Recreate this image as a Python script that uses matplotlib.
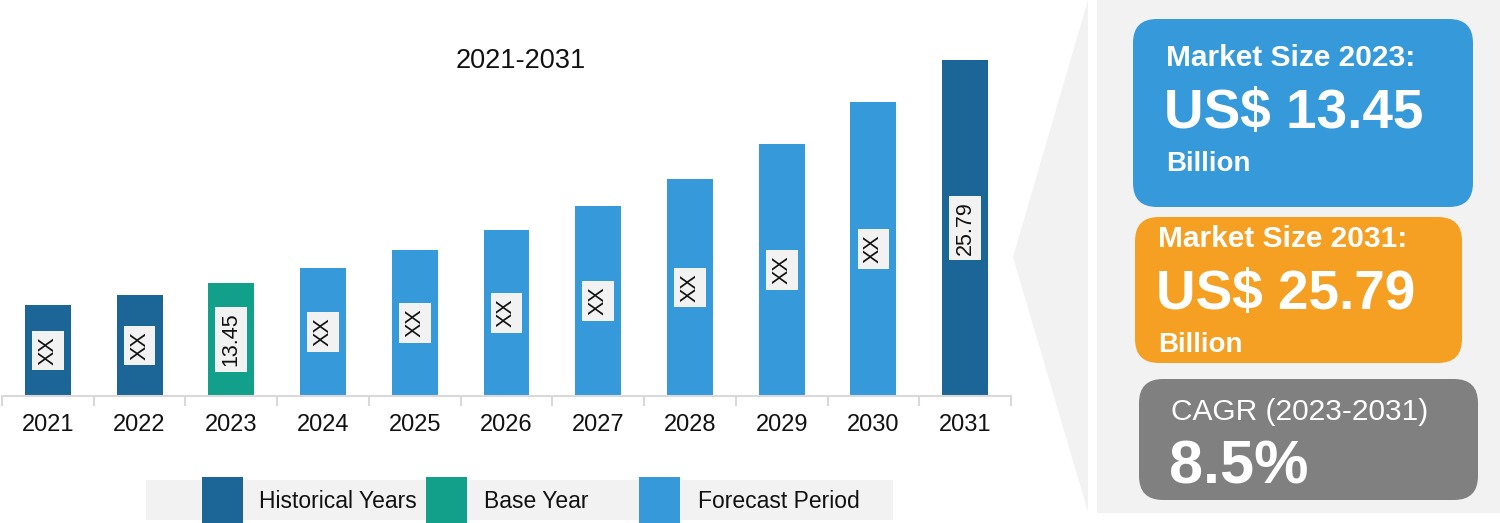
import matplotlib
matplotlib.use('Agg')
from matplotlib import pyplot as plt
from matplotlib.patches import Rectangle, FancyBboxPatch, Polygon

plt.rcParams['font.family'] = ['Liberation Sans', 'DejaVu Sans']

# data
years = ['2021', '2022', '2023', '2024', '2025', '2026', '2027', '2028', '2029', '2030', '2031']
bar_heights = [6.98, 7.75, 8.67, 9.83, 11.21, 12.74, 14.58, 16.66, 19.34, 22.57, 25.79]
bar_labels = ['XX', 'XX', '13.45', 'XX', 'XX', 'XX', 'XX', 'XX', 'XX', 'XX', '25.79']
periods = ['hist', 'hist', 'base', 'fc', 'fc', 'fc', 'fc', 'fc', 'fc', 'fc', 'hist']
legend_names = ['Historical Years', 'Base Year', 'Forecast Period']

COLORS = {'hist': '#1b6597', 'base': '#13a08b', 'fc': '#3599da'}
LABEL_BG = '#f2f2f2'
AXIS_GREY = '#d9d9d9'

fig = plt.figure(figsize=(15, 5.23), dpi=100)

# background layer in pixel coordinates
bg = fig.add_axes([0, 0, 1, 1], zorder=0)
bg.set_xlim(0, 1500)
bg.set_ylim(523, 0)
bg.axis('off')

# bar chart
ax = fig.add_axes([2 / 1500, 127 / 523, 1009 / 1500, 356 / 523], zorder=1)
ax.patch.set_alpha(0)
x = list(range(len(years)))
ax.bar(x, bar_heights, width=0.5, color=[COLORS[p] for p in periods], zorder=2)
for i, h in enumerate(bar_heights):
    ax.text(i, h / 2, bar_labels[i], rotation=90, ha='center', va='center',
            fontsize=15.5, color='#111111', zorder=3,
            bbox=dict(boxstyle='square,pad=0.25', fc=LABEL_BG, ec='none'))
ax.set_xlim(-0.5, len(years) - 0.5)
ax.set_ylim(0, 25.79 * 356 / 336)
ax.set_xticks(x)
ax.set_xticklabels(years, fontsize=17, color='#111111')
ax.set_xticks([i - 0.5 for i in range(len(years) + 1)], minor=True)
ax.tick_params(axis='x', which='major', length=0, pad=13)
ax.tick_params(axis='x', which='minor', length=7, color=AXIS_GREY, width=1.5)
ax.set_yticks([])
for s in ['top', 'right', 'left']:
    ax.spines[s].set_visible(False)
ax.spines['bottom'].set_color(AXIS_GREY)
ax.spines['bottom'].set_linewidth(1.5)

bg.text(521, 61, '2021-2031', ha='center', va='center', fontsize=19.5, color='#111111')

# legend
bg.add_patch(Rectangle((146, 480), 747, 40, fc='#f2f2f2', ec='none'))
for px, key, tx, name in zip([202, 426, 639], ['hist', 'base', 'fc'], [259, 484, 698], legend_names):
    bg.add_patch(Rectangle((px, 477), 41, 46, fc=COLORS[key], ec='none'))
    bg.text(tx, 501, name, ha='left', va='center', fontsize=16.5, color='#111111')

# right panel
bg.add_patch(Polygon([(1088, 0), (1013, 257), (1088, 512)], closed=True, fc='#f2f2f2', ec='none'))
bg.add_patch(Rectangle((1097, 0), 403, 513, fc='#f2f2f2', ec='none'))

boxes = [
    (1133, 19, 340, 188, '#3599da'),
    (1135, 217, 327, 146, '#f5a022'),
    (1139, 379, 339, 121, '#808080'),
]
for bx, by, bw, bh, col in boxes:
    bg.add_patch(FancyBboxPatch((bx, by), bw, bh, boxstyle='round,pad=0,rounding_size=24',
                                fc=col, ec='none'))

bg.text(1166, 58, 'Market Size 2023:', ha='left', va='center', fontsize=21.5,
        fontweight='bold', color='white')
bg.text(1164, 114, 'US$ 13.45', ha='left', va='center', fontsize=39.5,
        fontweight='bold', color='white')
bg.text(1166, 164, 'Billion', ha='left', va='center', fontsize=20,
        fontweight='bold', color='white')

bg.text(1158, 239, 'Market Size 2031:', ha='left', va='center', fontsize=21.5,
        fontweight='bold', color='white')
bg.text(1156, 295, 'US$ 25.79', ha='left', va='center', fontsize=39.5,
        fontweight='bold', color='white')
bg.text(1158, 345, 'Billion', ha='left', va='center', fontsize=20,
        fontweight='bold', color='white')

bg.text(1171, 412, 'CAGR (2023-2031)', ha='left', va='center', fontsize=21.5,
        color='white')
bg.text(1169, 468, '8.5%', ha='left', va='center', fontsize=44,
        fontweight='bold', color='white')

fig.savefig('out.png', dpi=100)
